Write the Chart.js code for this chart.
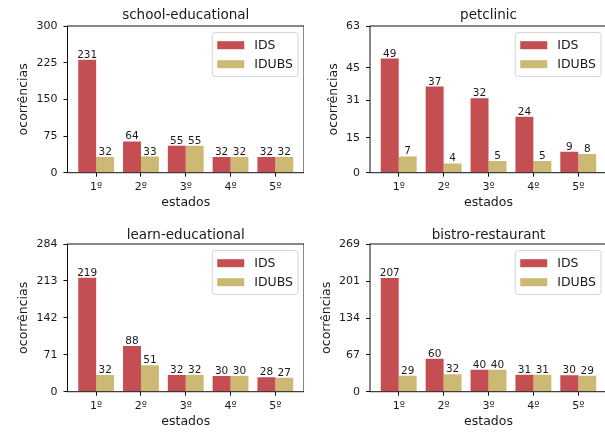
<!DOCTYPE html>
<html>
<head>
<meta charset="utf-8">
<script src="https://cdn.jsdelivr.net/npm/chart.js@4.4.0/dist/chart.umd.min.js"></script>
<style>
  html, body { margin: 0; padding: 0; background: #fff; width: 605px; height: 432px; overflow: hidden; position: relative; }
  canvas { position: absolute; }
</style>
</head>
<body>
<canvas id="c1" width="304" height="215" style="left:0px;top:0px"></canvas>
<canvas id="c2" width="305" height="215" style="left:302px;top:0px"></canvas>
<canvas id="c3" width="304" height="216" style="left:0px;top:218px"></canvas>
<canvas id="c4" width="305" height="216" style="left:302px;top:218px"></canvas>
<script>
// --- data ---
const states = ["1º", "2º", "3º", "4º", "5º"];
const seriesNames = ["IDS", "IDUBS"];
const seriesColors = ["#C44E52", "#CCB974"];

const schoolIds = [231, 64, 55, 32, 32];
const schoolIdubs = [32, 33, 55, 32, 32];
const schoolTicks = [0, 75, 150, 225, 300];

const petIds = [49, 37, 32, 24, 9];
const petIdubs = [7, 4, 5, 5, 8];
const petTicks = [0, 15, 31, 45, 63];

const learnIds = [219, 88, 32, 30, 28];
const learnIdubs = [32, 51, 32, 30, 27];
const learnTicks = [0, 71, 142, 213, 284];

const bistroIds = [207, 60, 40, 31, 30];
const bistroIdubs = [29, 32, 40, 31, 29];
const bistroTicks = [0, 67, 134, 201, 269];

const FONT = "DejaVu Sans";
const INK = "#1a1a1a";

// full box around the plot area (matplotlib spines)
const framePlugin = {
  id: "frame",
  afterDraw(chart) {
    const { ctx, chartArea: a } = chart;
    ctx.save();
    ctx.strokeStyle = "#111";
    ctx.lineWidth = 1;
    ctx.strokeRect(a.left, a.top, a.right - a.left, a.bottom - a.top);
    ctx.restore();
  }
};

// number above every bar
const valueLabels = {
  id: "valueLabels",
  afterDatasetsDraw(chart) {
    const ctx = chart.ctx;
    ctx.save();
    ctx.font = "10.5px " + FONT;
    ctx.fillStyle = INK;
    ctx.textAlign = "center";
    ctx.textBaseline = "alphabetic";
    chart.data.datasets.forEach((ds, di) => {
      chart.getDatasetMeta(di).data.forEach((bar, i) => {
        ctx.fillText(String(ds.data[i].y), bar.x, bar.y - 2);
      });
    });
    ctx.restore();
  }
};

// legend box in the upper right corner of the axes
const cornerLegend = {
  id: "cornerLegend",
  afterDraw(chart) {
    const { ctx, chartArea: a } = chart;
    const dsets = chart.data.datasets;
    ctx.save();
    ctx.font = "12.5px " + FONT;
    const textW = Math.max(...dsets.map(d => ctx.measureText(d.label).width));
    const w = 42 + textW + 5;
    const h = 44;
    const right = a.right - 6;
    const left = right - w;
    const top = a.top + 6.5;
    ctx.beginPath();
    ctx.roundRect(left, top, w, h, 3);
    ctx.fillStyle = "rgba(255,255,255,0.85)";
    ctx.fill();
    ctx.strokeStyle = "#d4d4d4";
    ctx.lineWidth = 1;
    ctx.stroke();
    dsets.forEach((d, i) => {
      const cy = top + 12.7 + i * 19;
      ctx.fillStyle = d.backgroundColor;
      ctx.fillRect(left + 5, cy - 4, 27, 8);
      ctx.fillStyle = INK;
      ctx.textAlign = "left";
      ctx.textBaseline = "middle";
      ctx.fillText(d.label, left + 42, cy + 0.5);
    });
    ctx.restore();
  }
};

function makePanel(id, title, ids, idubs, ticks, opt) {
  const series = [ids, idubs];
  const datasets = series.map((vals, s) => ({
    label: seriesNames[s],
    backgroundColor: seriesColors[s],
    borderWidth: 0,
    categoryPercentage: 0.8,
    barPercentage: 1.0,
    data: vals.map((v, i) => ({ x: i, y: v }))
  }));

  return new Chart(document.getElementById(id), {
    type: "bar",
    data: { datasets },
    options: {
      responsive: false,
      animation: false,
      devicePixelRatio: 1,
      layout: { padding: 0 },
      plugins: {
        legend: { display: false },
        tooltip: { enabled: false },
        title: {
          display: true,
          text: title,
          fullSize: false,
          color: INK,
          font: { family: FONT, size: 13.5, weight: "normal" },
          padding: { top: opt.titleTop, bottom: opt.titleBottom }
        }
      },
      scales: {
        x: {
          type: "linear",
          offset: false,
          min: -0.64,
          max: 4.64,
          afterBuildTicks: sc => { sc.ticks = states.map((_, i) => ({ value: i })); },
          afterFit: sc => { sc.height = 42.3; },
          grid: { display: true, offset: false, drawOnChartArea: false, drawTicks: true, tickLength: 4, color: "#111", tickColor: "#111" },
          border: { display: false },
          ticks: {
            color: INK,
            padding: 4,
            maxRotation: 0,
            autoSkip: false,
            font: { family: FONT, size: 11 },
            callback: v => states[v]
          },
          title: {
            display: true,
            text: "estados",
            color: INK,
            font: { family: FONT, size: 12.5 },
            padding: { top: 0, bottom: 4.8 }
          }
        },
        y: {
          type: "linear",
          min: 0,
          max: ticks[ticks.length - 1],
          afterBuildTicks: sc => { sc.ticks = ticks.map(v => ({ value: v })); },
          afterFit: sc => { sc.width = opt.yWidth; },
          grid: { display: true, drawOnChartArea: false, drawTicks: true, tickLength: 4, color: "#111", tickColor: "#111" },
          border: { display: false },
          ticks: {
            color: INK,
            padding: 6,
            font: { family: FONT, size: 11 },
            callback: v => String(v)
          },
          title: {
            display: true,
            text: "ocorrências",
            color: INK,
            font: { family: FONT, size: 12.5 },
            padding: { top: opt.yTitlePad, bottom: 0 }
          }
        }
      }
    },
    plugins: [framePlugin, valueLabels, cornerLegend]
  });
}

makePanel("c1", "school-educational", schoolIds, schoolIdubs, schoolTicks,
  { yWidth: 67.5, yTitlePad: 16, titleTop: 7.4, titleBottom: 2.4 });
makePanel("c2", "petclinic", petIds, petIdubs, petTicks,
  { yWidth: 68, yTitlePad: 24, titleTop: 7.4, titleBottom: 2.4 });
makePanel("c3", "learn-educational", learnIds, learnIdubs, learnTicks,
  { yWidth: 67.5, yTitlePad: 16, titleTop: 8.9, titleBottom: 0.9 });
makePanel("c4", "bistro-restaurant", bistroIds, bistroIdubs, bistroTicks,
  { yWidth: 68, yTitlePad: 17, titleTop: 8.9, titleBottom: 0.9 });
</script>
</body>
</html>
